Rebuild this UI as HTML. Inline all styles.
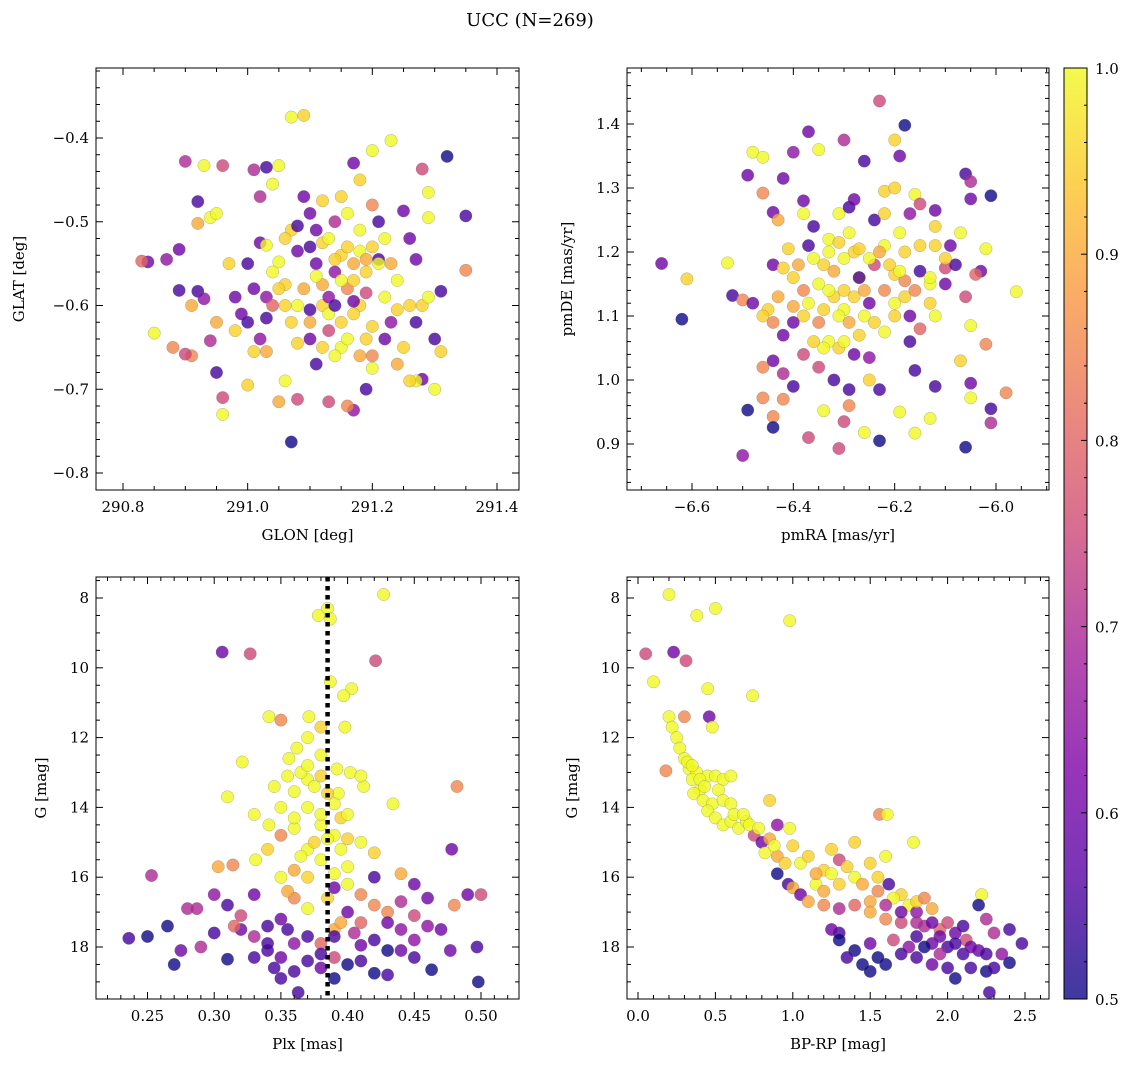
<!DOCTYPE html>
<html><head><meta charset="utf-8">
<style>
html,body{margin:0;padding:0;background:#fff;}
svg{display:block;font-family:"DejaVu Serif","Liberation Serif",serif;}
</style></head>
<body>
<svg id="fig" width="1136" height="1067" viewBox="0 0 1136 1067" xmlns="http://www.w3.org/2000/svg">
<text x="530" y="26" font-size="18" text-anchor="middle">UCC (N=269)</text>
</svg>
<script>
const glonGlat = [[291.07,-0.375,1.0],[291.09,-0.373,0.95],[291.23,-0.403,1.0],[291.32,-0.422,0.5],[290.90,-0.428,0.7],[290.93,-0.433,1.0],[290.96,-0.433,0.75],[291.01,-0.438,0.7],[291.03,-0.435,0.55],[291.05,-0.433,1.0],[291.17,-0.430,0.6],[291.20,-0.415,1.0],[291.28,-0.437,0.75],[291.29,-0.465,1.0],[291.35,-0.493,0.55],[291.29,-0.495,1.0],[291.25,-0.487,0.6],[291.20,-0.480,0.85],[291.15,-0.470,0.95],[291.12,-0.475,0.95],[291.10,-0.490,0.6],[291.07,-0.510,0.95],[291.04,-0.455,1.0],[291.02,-0.470,0.7],[290.92,-0.476,0.55],[290.94,-0.495,1.0],[290.92,-0.502,0.9],[290.95,-0.49,1.0],[290.89,-0.533,0.6],[290.84,-0.548,0.6],[290.83,-0.547,0.8],[290.87,-0.545,0.65],[290.89,-0.582,0.55],[290.92,-0.583,0.55],[290.91,-0.6,0.9],[290.93,-0.592,0.65],[290.95,-0.62,0.9],[290.94,-0.642,0.7],[290.98,-0.63,0.95],[290.99,-0.61,0.6],[291.01,-0.58,0.6],[291.03,-0.59,0.65],[291.03,-0.615,0.55],[291.04,-0.6,0.8],[291.02,-0.525,0.6],[291.0,-0.55,0.55],[291.03,-0.528,1.0],[291.05,-0.548,1.0],[291.08,-0.535,0.6],[291.1,-0.53,0.55],[291.12,-0.525,0.95],[291.15,-0.54,0.95],[291.17,-0.55,0.9],[291.2,-0.53,0.95],[291.22,-0.52,1.0],[291.19,-0.56,0.95],[291.14,-0.56,0.65],[291.16,-0.58,0.85],[291.18,-0.6,0.95],[291.12,-0.6,0.95],[291.09,-0.58,0.9],[291.07,-0.62,0.95],[291.1,-0.64,0.6],[291.13,-0.63,0.75],[291.15,-0.65,1.0],[291.18,-0.66,0.9],[291.2,-0.675,1.0],[291.22,-0.64,0.6],[291.25,-0.65,0.95],[291.27,-0.62,0.55],[291.28,-0.6,0.95],[291.3,-0.64,0.55],[291.31,-0.655,0.95],[291.35,-0.558,0.85],[291.31,-0.583,0.55],[291.29,-0.59,1.0],[291.26,-0.6,0.95],[291.24,-0.57,1.0],[291.27,-0.545,0.6],[291.3,-0.7,1.0],[291.28,-0.688,0.6],[291.27,-0.69,1.0],[291.19,-0.7,0.55],[291.17,-0.725,0.65],[291.16,-0.72,0.85],[291.13,-0.715,0.75],[291.11,-0.67,0.55],[291.08,-0.645,0.95],[291.06,-0.69,1.0],[291.05,-0.715,0.9],[291.08,-0.712,0.75],[291.03,-0.655,0.9],[291.01,-0.655,0.95],[291.0,-0.695,0.95],[290.96,-0.73,1.0],[290.96,-0.71,0.75],[290.95,-0.68,0.55],[290.91,-0.66,0.85],[290.9,-0.658,0.75],[290.88,-0.65,0.85],[290.85,-0.633,1.0],[291.07,-0.763,0.5],[291.06,-0.575,0.95],[291.11,-0.55,0.6],[291.18,-0.51,1.0],[291.21,-0.545,0.55],[291.14,-0.50,0.7],[291.16,-0.49,1.0],[291.2,-0.625,0.95],[291.23,-0.62,0.65],[291.1,-0.605,0.55],[291.13,-0.59,0.65],[291.17,-0.61,0.95],[291.05,-0.58,0.95],
[291.13,-0.52,1.0],[291.16,-0.53,0.95],[291.18,-0.535,1.0],[291.19,-0.545,0.9],[291.21,-0.55,1.0],[291.14,-0.545,0.95],[291.15,-0.57,1.0],[291.17,-0.57,0.95],[291.12,-0.575,0.9],[291.11,-0.565,1.0],[291.13,-0.61,1.0],[291.15,-0.62,0.95],[291.16,-0.64,1.0],[291.19,-0.64,0.95],[291.14,-0.66,1.0],[291.12,-0.65,0.95],[291.1,-0.62,0.9],[291.08,-0.6,1.0],[291.06,-0.6,0.95],[291.04,-0.56,1.0],[291.22,-0.59,1.0],[291.24,-0.605,0.95],[291.23,-0.55,0.9],[291.19,-0.585,0.75],[291.17,-0.595,0.6],[291.14,-0.6,0.55],[291.11,-0.51,0.6],[291.08,-0.505,0.55],[291.09,-0.47,0.6],[291.26,-0.52,0.6],[291.21,-0.5,0.55],[291.18,-0.45,0.95],[291.24,-0.67,0.9],[291.26,-0.69,0.95],[291.2,-0.66,0.85],[291.02,-0.64,0.65],[290.98,-0.59,0.6],[291.0,-0.62,0.55],[290.97,-0.55,0.95],[291.06,-0.52,0.95]];
const pmraPmde = [[-6.23,1.436,0.75],[-6.18,1.398,0.5],[-6.37,1.388,0.6],[-6.30,1.375,0.7],[-6.20,1.375,0.95],[-6.48,1.356,1.0],[-6.46,1.348,1.0],[-6.40,1.356,0.65],[-6.35,1.360,1.0],[-6.26,1.342,0.55],[-6.19,1.35,0.6],[-6.49,1.32,0.6],[-6.42,1.315,0.6],[-6.06,1.322,0.55],[-6.05,1.31,0.7],[-6.01,1.288,0.5],[-6.46,1.292,0.85],[-6.44,1.262,0.6],[-6.38,1.26,1.0],[-6.31,1.26,1.0],[-6.29,1.27,0.55],[-6.22,1.295,0.95],[-6.2,1.3,0.95],[-6.16,1.29,1.0],[-6.17,1.26,0.65],[-6.15,1.275,0.75],[-6.12,1.265,0.6],[-6.05,1.283,0.6],[-6.28,1.282,0.6],[-6.24,1.25,0.55],[-6.36,1.24,0.55],[-6.33,1.22,1.0],[-6.37,1.21,0.55],[-6.41,1.205,0.95],[-6.44,1.18,0.6],[-6.42,1.175,0.95],[-6.53,1.183,1.0],[-6.66,1.182,0.6],[-6.61,1.158,0.95],[-6.62,1.095,0.5],[-6.52,1.132,0.55],[-6.50,1.125,0.85],[-6.48,1.12,0.6],[-6.45,1.11,0.95],[-6.43,1.13,0.9],[-6.40,1.115,0.9],[-6.38,1.1,0.95],[-6.35,1.09,0.85],[-6.30,1.11,1.0],[-6.28,1.13,0.95],[-6.25,1.12,0.6],[-6.22,1.14,0.85],[-6.2,1.165,0.95],[-6.18,1.155,0.85],[-6.15,1.17,0.55],[-6.13,1.15,1.0],[-6.1,1.175,0.75],[-6.07,1.23,1.0],[-6.02,1.205,1.0],[-6.03,1.17,0.6],[-6.04,1.165,0.8],[-6.06,1.13,0.75],[-5.96,1.138,1.0],[-6.09,1.21,0.6],[-6.12,1.21,0.95],[-6.12,1.24,0.95],[-6.19,1.23,1.0],[-6.28,1.2,0.95],[-6.3,1.19,1.0],[-6.32,1.17,0.9],[-6.27,1.16,0.95],[-6.24,1.18,0.75],[-6.35,1.15,1.0],[-6.38,1.14,0.85],[-6.32,1.13,0.95],[-6.42,1.07,0.6],[-6.44,1.03,0.6],[-6.46,1.02,0.85],[-6.42,1.01,0.7],[-6.38,1.04,0.75],[-6.33,1.06,1.0],[-6.31,1.05,0.95],[-6.28,1.04,0.6],[-6.25,1.035,0.65],[-6.22,1.075,1.0],[-6.20,1.1,0.95],[-6.17,1.1,0.6],[-6.15,1.08,0.8],[-6.12,1.1,1.0],[-6.17,1.06,0.55],[-6.16,1.015,0.55],[-6.12,0.99,0.55],[-6.07,1.03,0.95],[-6.05,1.085,1.0],[-6.02,1.056,0.85],[-6.05,0.995,0.6],[-6.05,0.972,1.0],[-5.98,0.98,0.85],[-6.01,0.955,0.55],[-6.01,0.933,0.7],[-6.06,0.895,0.5],[-6.13,0.94,1.0],[-6.16,0.917,1.0],[-6.19,0.95,1.0],[-6.23,0.905,0.5],[-6.26,0.918,1.0],[-6.29,0.96,0.85],[-6.3,0.935,0.75],[-6.31,0.893,0.75],[-6.34,0.952,1.0],[-6.37,0.91,0.75],[-6.4,0.99,0.55],[-6.42,0.97,0.85],[-6.44,0.943,0.85],[-6.46,0.972,0.85],[-6.44,0.926,0.5],[-6.49,0.953,0.5],[-6.50,0.882,0.65],[-6.35,1.02,0.75],[-6.32,1.0,0.55],[-6.29,0.985,0.55],[-6.25,1.0,0.95],[-6.23,0.985,0.55],[-6.27,1.16,0.55],[-6.22,1.21,1.0],[-6.13,1.12,0.95],
[-6.33,1.2,1.0],[-6.31,1.215,0.95],[-6.29,1.23,1.0],[-6.27,1.205,0.95],[-6.25,1.19,1.0],[-6.23,1.2,0.9],[-6.21,1.18,0.95],[-6.19,1.17,1.0],[-6.34,1.18,0.95],[-6.36,1.19,1.0],[-6.39,1.18,0.9],[-6.4,1.16,0.95],[-6.37,1.12,1.0],[-6.34,1.11,0.95],[-6.31,1.1,1.0],[-6.29,1.09,0.9],[-6.26,1.1,1.0],[-6.24,1.09,0.95],[-6.3,1.14,0.95],[-6.33,1.14,1.0],[-6.26,1.14,0.9],[-6.2,1.12,1.0],[-6.18,1.13,0.95],[-6.16,1.14,0.85],[-6.13,1.16,1.0],[-6.46,1.1,0.95],[-6.44,1.09,0.85],[-6.4,1.09,0.6],[-6.3,1.06,1.0],[-6.34,1.05,1.0],[-6.36,1.06,0.95],[-6.27,1.07,0.95],[-6.18,1.2,0.95],[-6.15,1.21,0.95],[-6.1,1.15,0.6],[-6.08,1.18,0.55],[-6.1,1.19,0.95],[-6.43,1.25,0.9],[-6.38,1.28,0.6],[-6.22,1.26,0.95]];
const plxG = [[0.427,7.9,1.0],[0.385,8.3,1.0],[0.387,8.6,1.0],[0.378,8.5,1.0],[0.306,9.55,0.6],[0.327,9.6,0.75],[0.421,9.8,0.75],[0.387,10.4,1.0],[0.403,10.6,1.0],[0.397,10.8,1.0],[0.341,11.4,1.0],[0.371,11.4,1.0],[0.35,11.5,0.85],[0.398,11.7,1.0],[0.38,11.7,0.95],[0.37,12.0,1.0],[0.362,12.3,1.0],[0.356,12.6,1.0],[0.321,12.7,1.0],[0.392,12.9,1.0],[0.402,13.0,1.0],[0.37,13.2,1.0],[0.38,13.1,0.95],[0.412,13.4,1.0],[0.393,13.6,1.0],[0.36,13.55,1.0],[0.31,13.7,1.0],[0.434,13.9,1.0],[0.482,13.4,0.85],[0.341,14.5,1.0],[0.33,14.2,1.0],[0.36,14.6,1.0],[0.38,14.5,1.0],[0.39,14.8,1.0],[0.4,14.9,0.95],[0.35,14.8,0.85],[0.41,15.0,1.0],[0.37,15.2,1.0],[0.42,15.3,0.95],[0.38,15.5,1.0],[0.4,15.7,1.0],[0.36,15.8,0.9],[0.331,15.5,1.0],[0.303,15.7,0.9],[0.314,15.65,0.85],[0.478,15.2,0.6],[0.253,15.95,0.7],[0.42,16.0,0.55],[0.44,15.9,0.9],[0.35,16.0,1.0],[0.39,16.3,0.6],[0.45,16.2,0.6],[0.41,16.5,0.85],[0.36,16.6,0.85],[0.33,16.5,0.6],[0.30,16.5,0.65],[0.46,16.6,0.6],[0.49,16.5,0.6],[0.5,16.5,0.75],[0.48,16.8,0.85],[0.287,16.9,0.7],[0.31,16.8,0.55],[0.37,16.9,1.0],[0.4,17.0,0.6],[0.43,17.0,0.85],[0.45,17.1,0.75],[0.32,17.1,0.75],[0.35,17.2,0.6],[0.41,17.3,0.8],[0.34,17.4,0.55],[0.265,17.4,0.5],[0.39,17.5,0.9],[0.44,17.5,0.65],[0.47,17.5,0.6],[0.3,17.6,0.55],[0.33,17.7,0.7],[0.37,17.7,0.55],[0.39,17.7,0.55],[0.42,17.8,0.55],[0.45,17.8,0.65],[0.236,17.75,0.55],[0.25,17.7,0.5],[0.36,17.9,0.65],[0.38,17.9,0.8],[0.41,17.95,0.6],[0.497,18.0,0.55],[0.275,18.1,0.6],[0.29,18.0,0.7],[0.34,18.1,0.55],[0.43,18.1,0.5],[0.477,18.1,0.6],[0.35,18.3,0.6],[0.39,18.3,0.75],[0.31,18.35,0.5],[0.37,18.4,0.55],[0.45,18.3,0.55],[0.27,18.5,0.5],[0.345,18.6,0.55],[0.36,18.7,0.55],[0.40,18.5,0.5],[0.42,18.75,0.5],[0.43,18.8,0.55],[0.463,18.65,0.5],[0.498,19.0,0.5],[0.363,19.3,0.55],[0.38,18.6,0.6],[0.355,17.5,0.55],[0.395,17.3,0.9],
[0.365,13.0,1.0],[0.375,13.4,1.0],[0.385,13.6,0.95],[0.39,13.9,1.0],[0.37,14.0,1.0],[0.38,14.2,1.0],[0.395,14.3,0.95],[0.36,14.3,1.0],[0.35,14.0,1.0],[0.4,14.2,1.0],[0.385,14.9,1.0],[0.375,15.0,0.95],[0.395,15.2,1.0],[0.365,15.4,1.0],[0.39,15.9,1.0],[0.37,16.0,0.95],[0.4,16.2,1.0],[0.355,16.4,0.9],[0.385,16.6,0.95],[0.345,13.4,1.0],[0.355,13.1,1.0],[0.38,12.5,1.0],[0.37,12.8,1.0],[0.41,13.1,1.0],[0.34,15.2,0.95],[0.42,16.8,0.85],[0.44,16.7,0.7],[0.43,17.3,0.6],[0.32,17.5,0.6],[0.34,17.9,0.55],[0.38,18.2,0.55],[0.41,18.4,0.55],[0.44,18.1,0.6],[0.33,18.3,0.55],[0.39,18.9,0.5],[0.35,18.9,0.55],[0.46,17.4,0.65],[0.28,16.9,0.7],[0.315,17.4,0.8],[0.405,17.6,0.7]];
const bprpG = [[0.05,9.6,0.75],[0.1,10.4,1.0],[0.2,7.9,1.0],[0.23,9.55,0.6],[0.31,9.8,0.75],[0.38,8.5,1.0],[0.5,8.3,1.0],[0.98,8.65,1.0],[0.45,10.6,1.0],[0.74,10.8,1.0],[0.2,11.4,1.0],[0.22,11.7,1.0],[0.25,12.0,1.0],[0.3,11.4,0.85],[0.46,11.4,0.6],[0.48,11.7,1.0],[0.27,12.3,1.0],[0.3,12.6,1.0],[0.18,12.95,0.85],[0.33,12.9,1.0],[0.38,13.0,1.0],[0.35,13.2,1.0],[0.45,13.1,1.0],[0.4,13.5,1.0],[0.36,13.6,1.0],[0.42,13.8,1.0],[0.48,13.9,1.0],[0.5,13.1,1.0],[0.55,13.2,1.0],[0.6,13.1,1.0],[0.45,14.1,1.0],[0.5,14.3,1.0],[0.55,14.5,1.0],[0.6,14.4,1.0],[0.65,14.6,1.0],[0.7,14.4,1.0],[0.85,13.8,0.95],[0.9,14.5,0.65],[0.98,14.6,1.0],[0.75,14.8,0.75],[0.8,15.0,0.6],[0.82,15.3,1.0],[0.9,15.4,0.9],[0.95,15.6,0.95],[0.9,15.9,0.5],[0.97,16.2,0.55],[1.0,16.3,0.9],[1.05,16.5,0.6],[1.15,16.2,1.0],[1.2,16.4,0.9],[1.3,16.2,0.95],[1.2,15.8,0.95],[1.25,15.2,0.95],[1.3,15.5,0.75],[1.4,15.0,0.95],[1.5,15.6,0.95],[1.56,14.2,0.85],[1.61,14.2,1.0],[1.6,15.4,1.0],[1.55,16.0,0.95],[1.5,16.7,0.9],[1.62,16.2,0.55],[1.78,15.0,1.0],[1.7,16.5,0.95],[1.75,16.8,1.0],[1.8,17.0,0.65],[1.9,16.9,0.9],[1.1,16.7,0.9],[1.2,16.8,0.85],[1.3,16.9,0.7],[1.4,16.8,0.8],[1.5,17.0,0.9],[1.6,17.2,0.85],[1.7,17.3,0.75],[1.85,17.4,0.7],[1.95,17.5,0.8],[2.05,17.6,0.6],[2.12,17.8,0.75],[2.22,16.5,1.0],[2.2,16.8,0.5],[2.25,17.2,0.7],[2.3,17.6,0.7],[2.4,17.5,0.55],[2.48,17.9,0.55],[2.35,18.2,0.65],[2.2,18.1,0.6],[2.1,18.2,0.55],[2.0,18.0,0.55],[1.9,17.9,0.6],[1.8,17.7,0.55],[1.65,17.8,0.75],[1.5,17.9,0.6],[1.4,18.1,0.5],[1.3,17.6,0.55],[1.3,17.8,0.5],[1.45,18.5,0.5],[1.5,18.7,0.5],[1.6,18.5,0.5],[1.8,18.3,0.55],[1.9,18.5,0.6],[2.0,18.6,0.55],[2.05,18.9,0.5],[2.15,18.6,0.55],[2.25,18.7,0.5],[2.3,18.6,0.55],[2.4,18.45,0.5],[2.27,19.3,0.55],[1.95,18.2,0.7],[1.75,18.0,0.65],
[0.32,12.7,1.0],[0.35,12.8,1.0],[0.4,13.2,1.0],[0.43,13.4,1.0],[0.52,13.5,1.0],[0.55,13.8,1.0],[0.6,13.9,1.0],[0.62,14.2,1.0],[0.68,14.2,1.0],[0.72,14.5,1.0],[0.78,14.6,1.0],[0.85,14.9,0.9],[0.88,15.1,1.0],[1.0,15.1,0.95],[1.05,15.6,1.0],[1.1,15.4,0.95],[1.15,15.9,0.9],[1.25,15.9,1.0],[1.35,15.7,0.95],[1.4,16.0,1.0],[1.45,16.2,0.9],[1.55,16.4,0.85],[1.65,16.6,1.0],[1.8,16.7,0.95],[1.85,16.6,0.85],[1.6,16.8,0.7],[1.7,17.0,0.6],[1.8,17.3,0.7],[1.9,17.3,0.6],[2.0,17.3,0.75],[2.1,17.4,0.55],[1.95,17.7,0.6],[2.05,17.9,0.55],[2.15,18.0,0.6],[2.25,18.2,0.55],[1.85,18.0,0.5],[1.7,18.2,0.55],[1.55,18.3,0.5],[1.35,18.3,0.55],[1.25,17.5,0.6]];
const plxLine = 0.385;
const p1XTicks = [290.8,291.0,291.2,291.4];
const p1XLabels = ["290.8","291.0","291.2","291.4"];
const p1YTicks = [-0.4,-0.5,-0.6,-0.7,-0.8];
const p1YLabels = ["\u22120.4","\u22120.5","\u22120.6","\u22120.7","\u22120.8"];
const p2XTicks = [-6.6,-6.4,-6.2,-6.0];
const p2XLabels = ["\u22126.6","\u22126.4","\u22126.2","\u22126.0"];
const p2YTicks = [0.9,1.0,1.1,1.2,1.3,1.4];
const p2YLabels = ["0.9","1.0","1.1","1.2","1.3","1.4"];
const p3XTicks = [0.25,0.30,0.35,0.40,0.45,0.50];
const p3XLabels = ["0.25","0.30","0.35","0.40","0.45","0.50"];
const gTicks = [8,10,12,14,16,18];
const gLabels = ["8","10","12","14","16","18"];
const p4XTicks = [0,0.5,1.0,1.5,2.0,2.5];
const p4XLabels = ["0.0","0.5","1.0","1.5","2.0","2.5"];
const cbTicks = [0.5,0.6,0.7,0.8,0.9,1.0];
const cbLabels = ["0.5","0.6","0.7","0.8","0.9","1.0"];

const NS="http://www.w3.org/2000/svg";
const svg=document.getElementById('fig');
function mk(tag,attrs,parent){const e=document.createElementNS(NS,tag);for(const k in attrs)e.setAttribute(k,attrs[k]);(parent||svg).appendChild(e);return e;}
const stops=[[13,8,135],[84,2,163],[126,3,168],[164,32,152],[204,71,120],[229,107,93],[248,149,64],[253,197,39],[240,249,33]];
function plasma(t){t=Math.max(0,Math.min(1,t));const f=t*8,i=Math.min(7,Math.floor(f)),r=f-i;const a=stops[i],b=stops[i+1];return 'rgb('+[0,1,2].map(k=>Math.round(a[k]+(b[k]-a[k])*r)).join(',')+')';}
function cval(c){return (c-0.5)/0.5;}
function lin(v0,p0,v1,p1){return v=>p0+(v-v0)*(p1-p0)/(v1-v0);}

function panel(o){
  const g=mk('g',{});
  
  
  const {L,R,T,B}=o;
  const sx=lin(o.xa[0],o.xa[1],o.xb[0],o.xb[1]);
  const sy=lin(o.ya[0],o.ya[1],o.yb[0],o.yb[1]);
  const clipId='clip'+o.name;
  const cp=mk('clipPath',{id:clipId},g);mk('rect',{x:L,y:T,width:R-L,height:B-T},cp);
  const pts=mk('g',{'clip-path':'url(#'+clipId+')'},g);
  
  
  o.data.forEach(d=>{
    const c=mk('circle',{cx:sx(d[0]).toFixed(1),cy:sy(d[1]).toFixed(1),r:6.2,fill:plasma(cval(d[2])),'fill-opacity':0.8,stroke:'#666','stroke-width':0.4,'stroke-opacity':0.6},pts);
    
    
  });
  if(o.vline!==undefined){
    const l=mk('line',{x1:sx(o.vline),x2:sx(o.vline),y1:T,y2:B,stroke:'#000','stroke-width':4.5,'stroke-dasharray':'4.5,4.5'},g);
    
    
  }
  const fr=mk('rect',{x:L,y:T,width:R-L,height:B-T,fill:'none',stroke:'#000','stroke-width':1},g);
  
  
  const tk=mk('g',{stroke:'#000','stroke-width':1},g);
  const xt=o.xt, dx=xt[1]-xt[0];
  for(let i=-2;i<xt.length+1;i++){
    const base=xt[0]+i*dx;
    for(let m=0;m<o.xm;m++){
      const v=base+m*dx/o.xm;const px=sx(v);
      if(px<L+0.5||px>R-0.5)continue;
      const len=m===0?7:4;
      mk('line',{x1:px,x2:px,y1:B,y2:B-len},tk);mk('line',{x1:px,x2:px,y1:T,y2:T+len},tk);
    }
  }
  xt.forEach((v,i)=>{const t=mk('text',{x:sx(v),y:B+22,'font-size':15,'text-anchor':'middle'},g);t.textContent=o.xl[i];
    });
  const yt=o.yt, dy=yt[1]-yt[0];
  for(let i=-2;i<yt.length+1;i++){
    const base=yt[0]+i*dy;
    for(let m=0;m<o.ym;m++){
      const v=base+m*dy/o.ym;const py=sy(v);
      if(py<T+0.5||py>B-0.5)continue;
      const len=m===0?7:4;
      mk('line',{y1:py,y2:py,x1:L,x2:L+len},tk);mk('line',{y1:py,y2:py,x1:R,x2:R-len},tk);
    }
  }
  yt.forEach((v,i)=>{const t=mk('text',{x:L-7,y:sy(v)+5,'font-size':15,'text-anchor':'end'},g);t.textContent=o.yl[i];
    });
  const xlab=mk('text',{x:(L+R)/2,y:B+50,'font-size':15,'text-anchor':'middle'},g);xlab.textContent=o.xtitle;
  
  const ylab=mk('text',{x:0,y:0,'font-size':15,'text-anchor':'middle',transform:'translate('+o.ytx+','+(T+B)/2+') rotate(-90)'},g);ylab.textContent=o.ytitle;
  
}

panel({name:'glon-glat-panel',L:96,R:519,T:68,B:490,xa:[290.8,123],xb:[291.4,497],ya:[-0.4,138],yb:[-0.8,473],data:glonGlat,xt:p1XTicks,xl:p1XLabels,xm:4,yt:p1YTicks,yl:p1YLabels,ym:5,xtitle:'GLON [deg]',ytitle:'GLAT [deg]',ytx:24});
panel({name:'pm-panel',L:627,R:1049,T:68,B:490,xa:[-6.6,692],xb:[-6.0,996],ya:[1.4,124],yb:[0.9,444],data:pmraPmde,xt:p2XTicks,xl:p2XLabels,xm:4,yt:p2YTicks,yl:p2YLabels,ym:5,xtitle:'pmRA [mas/yr]',ytitle:'pmDE [mas/yr]',ytx:572});
panel({name:'plx-g-panel',L:96,R:519,T:577,B:999,xa:[0.25,147.5],xb:[0.50,481],ya:[8,598],yb:[18,947],data:plxG,xt:p3XTicks,xl:p3XLabels,xm:5,yt:gTicks,yl:gLabels,ym:4,xtitle:'Plx [mas]',ytitle:'G [mag]',ytx:46,vline:plxLine});
panel({name:'cmd-panel',L:627,R:1049,T:577,B:999,xa:[0,638],xb:[2.5,1025],ya:[8,598],yb:[18,947],data:bprpG,xt:p4XTicks,xl:p4XLabels,xm:5,yt:gTicks,yl:gLabels,ym:4,xtitle:'BP-RP [mag]',ytitle:'G [mag]',ytx:577});

const cb=mk('g',{});


const cbL=1064,cbR=1087,cbT=68,cbB=999;
const gr=mk('linearGradient',{id:'cbg',x1:0,y1:1,x2:0,y2:0},cb);
for(let i=0;i<=16;i++){mk('stop',{offset:i/16,'stop-color':plasma(i/16),'stop-opacity':0.8},gr);}
mk('rect',{x:cbL,y:cbT,width:cbR-cbL,height:cbB-cbT,fill:'url(#cbg)',stroke:'#000','stroke-width':1},cb);
const cy=lin(0.5,cbB,1.0,cbT);
for(let v=0.5;v<=1.0001;v+=0.02){const py=cy(v);const major=Math.abs(v*10-Math.round(v*10))<1e-6;
  mk('line',{x1:cbR,x2:cbR-(major?6:3),y1:py,y2:py,stroke:'#000','stroke-width':1},cb);}
cbTicks.forEach((v,i)=>{const t=mk('text',{x:cbR+8,y:cy(v)+6,'font-size':15},cb);t.textContent=cbLabels[i];
  });
</script>
</body></html>
